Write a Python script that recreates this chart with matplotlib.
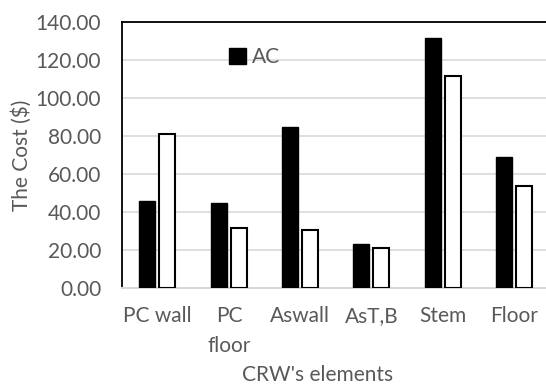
import numpy as np
import matplotlib
matplotlib.use("Agg")
import matplotlib.pyplot as plt

# data
elements = ["PC wall", "PC\nfloor", "Aswall", "AsT,B", "Stem", "Floor"]
ac_cost = [46.0, 45.0, 85.0, 23.0, 131.5, 69.0]
other_cost = [81.0, 31.5, 30.5, 21.0, 111.5, 53.5]
yticks = [0, 20, 40, 60, 80, 100, 120, 140]

plt.rcParams['font.family'] = ['Lato', 'DejaVu Sans']
grey = "#595959"
fs = 15

fig = plt.figure(figsize=(5.46, 3.86), dpi=100)
ax = fig.add_axes([122/546, 1-288/386, 428/546, 266/386])

x = np.arange(len(elements))
w = 0.225
ax.bar(x - 0.145, ac_cost, w, color="black", edgecolor="black", linewidth=1.0, label="AC", zorder=3)
ax.bar(x + 0.135, other_cost, w, color="white", edgecolor="black", linewidth=1.5, zorder=3)

ax.set_xlim(-0.5, 5.5)
ax.set_ylim(0, 140)
ax.set_yticks(yticks)
ax.set_yticklabels(["%.2f" % v for v in yticks])
ax.set_xticks(x)
ax.set_xticklabels(elements, linespacing=1.6)
ax.tick_params(length=0, labelsize=fs, colors=grey)
ax.tick_params(axis="y", pad=15)
ax.tick_params(axis="x", pad=13)
ax.yaxis.grid(True, color="#d9d9d9", linewidth=1.2, zorder=0)

ax.spines["left"].set_color("black")
ax.spines["top"].set_color("black")
ax.spines["left"].set_linewidth(1.3)
ax.spines["top"].set_linewidth(1.3)
ax.spines["bottom"].set_color("#d9d9d9")
ax.spines["bottom"].set_linewidth(1.5)
ax.spines["right"].set_visible(False)

fig.text(22/546, 1-155/386, "The Cost ($)", fontsize=fs, color=grey, ha="center", va="center", rotation=90)
fig.text(318/546, 1-375/386, "CRW's elements", fontsize=fs, color=grey, ha="center", va="center")

handles, labels = ax.get_legend_handles_labels()
ax.legend(handles[:1], labels[:1], loc="center left", bbox_to_anchor=(229/546, 1-57/386),
          bbox_transform=fig.transFigure, frameon=False, fontsize=fs, labelcolor=grey,
          handlelength=0.8, handleheight=0.8, handletextpad=0.3, borderpad=0, borderaxespad=0)

fig.savefig("out.png", dpi=100)
